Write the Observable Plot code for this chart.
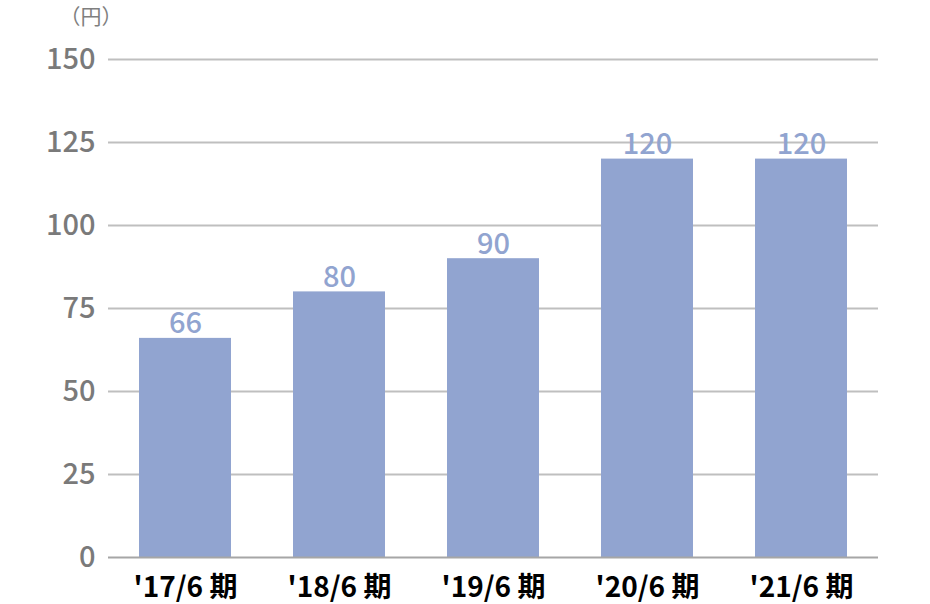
<!DOCTYPE html>
<html><head><meta charset="utf-8">
<script src="https://cdn.jsdelivr.net/npm/d3@7"></script>
<script src="https://cdn.jsdelivr.net/npm/@observablehq/plot@0.6"></script>
<style>body{margin:0;background:#fff}</style>
</head><body><div id="chart"></div>
<script>
const categories = ["'17/6 期", "'18/6 期", "'19/6 期", "'20/6 期", "'21/6 期"];
const values = [66, 80, 90, 120, 120];
const yTicks = [0, 25, 50, 75, 100, 125, 150];
const unitLabel = "（円）";

const data = categories.map((c, i) => ({cat: c, v: values[i]}));
const barColor = "#91a4d0";
const font = "'Noto Sans CJK JP', 'Noto Sans', sans-serif";

const chart = Plot.plot({
  width: 930, height: 604,
  marginLeft: 108, marginRight: 52, marginTop: 59, marginBottom: 47,
  style: {fontFamily: font, background: "#fff"},
  x: {domain: categories, paddingInner: 0.4, paddingOuter: 0.2, label: null},
  y: {domain: [0, 150], ticks: yTicks, label: null},
  marks: [
    Plot.gridY(yTicks.filter(d => d > 0), {stroke: "#bfbfbf", strokeOpacity: 1, strokeWidth: 2}),
    Plot.barY(data, {x: "cat", y: "v", fill: barColor}),
    Plot.ruleY([0], {stroke: "#a6a6a6", strokeWidth: 2}),
    Plot.text(data, {x: "cat", y: "v", text: d => String(d.v), lineAnchor: "bottom", dy: -5, fill: barColor, fontSize: 29, fontWeight: 500}),
    Plot.axisY({ticks: yTicks, tickSize: 0, tickPadding: 13, fontSize: 29, fontWeight: 500, color: "#7a7a7a", label: null}),
    Plot.axisX({tickSize: 0, tickPadding: 20, fontSize: 28, fontWeight: 700, color: "#000", label: null}),
    Plot.text([unitLabel], {frameAnchor: "top-left", dx: -49, dy: -50, fontSize: 21, fill: "#7f7f7f", textAnchor: "start"})
  ]
});
document.getElementById("chart").append(chart);
</script></body></html>
